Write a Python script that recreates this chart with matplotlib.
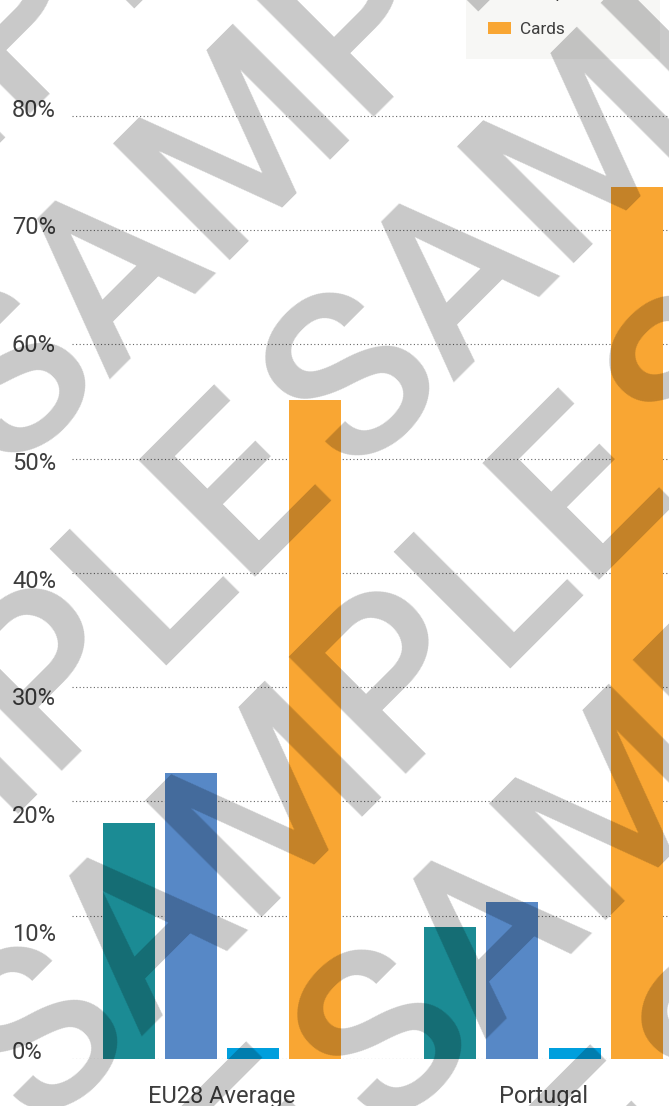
import matplotlib
matplotlib.use('Agg')
import matplotlib.pyplot as plt
from matplotlib.transforms import IdentityTransform

# ---------------- data ----------------
categories = ['EU28 Average', 'Portugal']
series_names = ['Direct debits', 'Credit transfers', 'Cheques', 'Cards']
direct_debits = [20.0, 11.2]
credit_transfers = [24.3, 13.3]
cheques = [0.9, 0.9]
cards = [55.9, 74.0]
y_ticks = [0, 10, 20, 30, 40, 50, 60, 70, 80]
y_tick_labels = ['0%', '10%', '20%', '30%', '40%', '50%', '60%', '70%', '80%']
grid_ticks = [10, 20, 30, 40, 50, 60, 70, 80]

# ---------------- style ----------------
colors = ['#1b8b94', '#5788c6', '#009fdd', '#f9a633']
text_color = '#3d3d3d'
grid_color = '#666666'
W, H, DPI = 669, 1106, 100

plt.rcParams['font.family'] = ['Roboto', 'DejaVu Sans']

fig = plt.figure(figsize=(W / DPI, H / DPI), dpi=DPI)
fig.patch.set_facecolor('white')

# axes box in pixels (left, top, right, bottom), measured from top-left
ax_l, ax_t, ax_r, ax_b = 72, 60, 700, 1058.7
rect = [ax_l / W, 1 - ax_b / H, (ax_r - ax_l) / W, (ax_b - ax_t) / H]

# grid axis (its own scale, as in the reference)
px_g10, px_g80 = 915.7, 115.7
g_scale = (px_g10 - px_g80) / 70.0
ax_grid = fig.add_axes(rect)
ax_grid.set_ylim(10 - (ax_b - px_g10) / g_scale, 80 + (px_g80 - ax_t) / g_scale)

# bar axis
lab_scale = 11.775
ax = fig.add_axes(rect)
ax.patch.set_alpha(0)
ax.set_ylim(0, (ax_b - ax_t) / lab_scale)

# x scale: group centers 0 and 1
unit = 321.5
x_left = -(222 - ax_l) / unit
x_right = 1 + (ax_r - 543.5) / unit
for a in (ax, ax_grid):
    a.set_xlim(x_left, x_right)
    for s in a.spines.values():
        s.set_visible(False)

ax_grid.set_yticks(grid_ticks)
ax_grid.set_xticks([])
ax_grid.tick_params(axis='y', length=0, labelleft=False)
ax_grid.grid(axis='y', linestyle=(0, (1, 2.2)), color=grid_color, linewidth=0.8)
ax_grid.set_axisbelow(True)

pitch = 62.2 / unit
width = 52 / unit
values = [direct_debits, credit_transfers, cheques, cards]
handles = []
for k, (name, vals, c) in enumerate(zip(series_names, values, colors)):
    xs = [i + (k - 1.5) * pitch for i in range(len(categories))]
    b = ax.bar(xs, vals, width=width, color=c, label=name, zorder=3)
    handles.append(b)

ax.axhline(0, linestyle=(0, (1, 2.2)), color=grid_color, linewidth=0.8, zorder=1)

ax.set_yticks(y_ticks, labels=y_tick_labels, ha='left', va='baseline')
ax.tick_params(axis='y', length=0, pad=(ax_l - 12) * 72 / DPI, labelsize=17,
               labelcolor=text_color)
ax.set_xticks(range(len(categories)), labels=categories)
ax.tick_params(axis='x', length=0, pad=18.6, labelsize=17, labelcolor=text_color)

# legend (top right, partially cut off)
leg = fig.legend(handles=handles, labels=series_names, loc='lower left',
                 bbox_to_anchor=(466 / W, 1 - 58.7 / H), bbox_transform=fig.transFigure,
                 borderaxespad=0, fontsize=12.4, frameon=True, fancybox=False,
                 facecolor='#f7f7f5', edgecolor='none', framealpha=1,
                 borderpad=1.25, labelspacing=1.25, handlelength=1.34,
                 handleheight=0.7, handletextpad=0.52, labelcolor=text_color)

# watermark "SAMPLE" tiled diagonally
for i in range(-2, 3):
    for j in range(-1, 3):
        x0 = 8 + 344 * i + 32 * j
        y0 = 474 + 3 * i + 657 * j
        fig.text(x0, H - y0, 'SAMPLE', transform=IdentityTransform(), rotation=45,
                 rotation_mode='anchor', ha='left', va='baseline', fontsize=167,
                 fontweight='medium', color='black', alpha=0.216, zorder=10,
                 family='Roboto')

fig.savefig('out.png', dpi=DPI)
